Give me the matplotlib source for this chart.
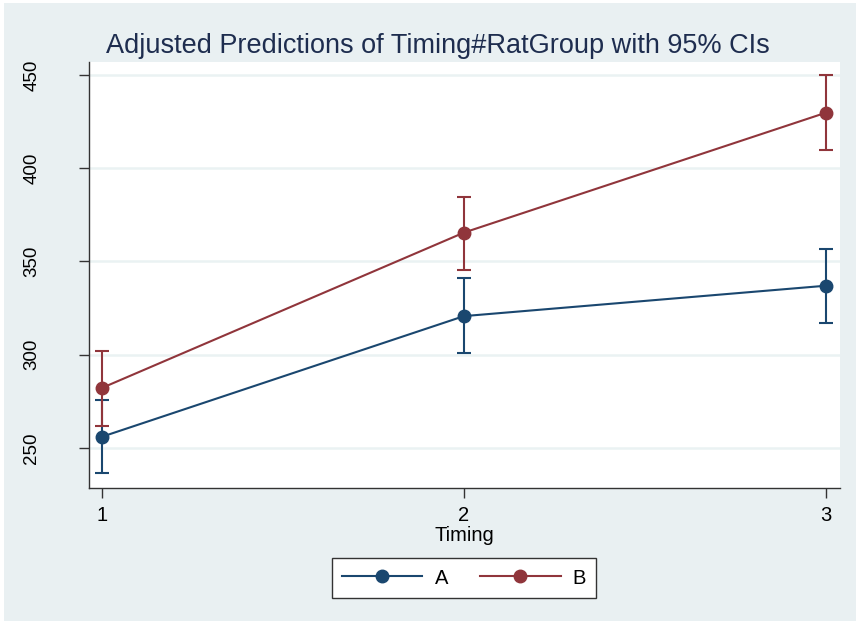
import numpy as np
import matplotlib.pyplot as plt
from matplotlib.patches import Rectangle

timing = [1, 2, 3]
group_a = [256.0, 320.7, 337.0]
group_b = [282.2, 365.5, 429.8]
ci_a_low = [236.5, 301.0, 317.0]
ci_a_high = [275.7, 341.0, 356.8]
ci_b_low = [262.0, 345.5, 409.8]
ci_b_high = [301.8, 384.8, 450.0]
yticks = [250, 300, 350, 400, 450]

bg = '#e9f0f2'
navy = '#1a476f'
maroon = '#90353b'

plt.rcParams['font.family'] = ['Liberation Sans', 'DejaVu Sans']

fig = plt.figure(figsize=(8.56, 6.24), dpi=100, facecolor='white')
fig.patches.append(Rectangle((4 / 856, 3 / 624), 852 / 856, 618 / 624,
                             transform=fig.transFigure, facecolor=bg,
                             edgecolor='none', zorder=-10))

ax = fig.add_axes([89 / 856, 136 / 624, 751 / 856, 426 / 624])
ax.set_facecolor('white')

for vals, lo, hi, col, name in [(group_a, ci_a_low, ci_a_high, navy, 'A'),
                                (group_b, ci_b_low, ci_b_high, maroon, 'B')]:
    vals = np.array(vals)
    err = [vals - np.array(lo), np.array(hi) - vals]
    ax.errorbar(timing, vals, yerr=err, fmt='none', ecolor=col,
                elinewidth=1.5, capsize=5, capthick=1.5, zorder=3)
    ax.plot(timing, vals, color=col, lw=1.5, marker='o', markersize=9,
            label=name, zorder=4)

ax.set_xlim(0.964, 3.039)
ax.set_ylim(228.5, 457)
ax.set_xticks(timing)
ax.set_yticks(yticks)
ax.set_yticklabels([str(t) for t in yticks], rotation=90, va='center')
ax.tick_params(axis='both', length=7, width=1, color='#333333')
ax.tick_params(axis='x', labelsize=14.5, pad=6)
ax.tick_params(axis='y', labelsize=13.5, pad=28)
ax.grid(axis='y', color='#eaf2f3', lw=1.8, zorder=0)
ax.set_axisbelow(True)

for s in ['top', 'right']:
    ax.spines[s].set_visible(False)
for s in ['left', 'bottom']:
    ax.spines[s].set_color('#333333')
    ax.spines[s].set_linewidth(1)

ax.set_xlabel('Timing', fontsize=14.5, labelpad=1)
fig.text(438 / 856, 1 - 53 / 624,
         'Adjusted Predictions of Timing#RatGroup with 95% CIs',
         fontsize=19.5, color='#1e2d4f', ha='center', va='baseline')

leg = fig.legend(loc='center', bbox_to_anchor=(464 / 856, 1 - 578 / 624),
                 ncol=2, fontsize=14.5, frameon=True, fancybox=False,
                 edgecolor='#333333', facecolor='white', framealpha=1,
                 handlelength=4, columnspacing=1.6,
                 handletextpad=0.6, borderpad=0.5)
leg.get_frame().set_linewidth(1)

fig.savefig('out.png', dpi=100, facecolor=fig.get_facecolor())
